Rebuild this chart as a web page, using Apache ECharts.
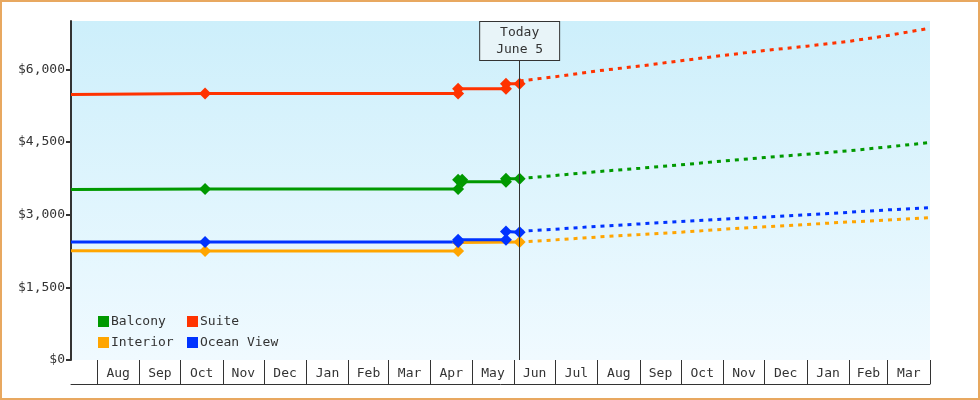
<!DOCTYPE html><html><head><meta charset="utf-8">
<script src="https://cdn.jsdelivr.net/npm/echarts@6/dist/echarts.min.js"></script>
<style>html,body{margin:0;padding:0;background:#fff}#c{width:980px;height:400px;box-sizing:border-box;border:2px solid #e8a860}</style>
</head><body><div id="c"></div><script>
const seriesNames = ['Balcony','Suite','Interior','Ocean View'];
const colors = ['#009900','#ff3300','#ffa500','#0033ff'];
const monthNames = ['Aug','Sep','Oct','Nov','Dec','Jan','Feb','Mar','Apr','May','Jun','Jul','Aug','Sep','Oct','Nov','Dec','Jan','Feb','Mar'];
const axisStart = '2023-07-13', axisEnd = '2025-04-01', today = '2024-06-05';
const yTicks = [0,1500,3000,4500,6000];
// actual price history [date, price]
const balconyHist = [['2023-07-13',3520],['2023-10-19',3531],['2024-04-21',3531],['2024-04-21',3724],['2024-04-24',3724],['2024-04-24',3680],['2024-05-26',3680],['2024-05-26',3745],['2024-06-05',3745]];
const suiteHist = [['2023-07-13',5480],['2023-10-19',5503],['2024-04-21',5503],['2024-04-21',5600],['2024-05-26',5600],['2024-05-26',5704],['2024-06-05',5704]];
const interiorHist = [['2023-07-13',2255],['2023-10-19',2250],['2024-04-21',2250],['2024-04-21',2428],['2024-06-05',2435]];
const oceanHist = [['2023-07-13',2435],['2023-10-19',2435],['2024-04-21',2435],['2024-04-21',2483],['2024-05-26',2483],['2024-05-26',2655],['2024-06-05',2640]];
// forecast [date, price]
const forecastDates = ['2024-06-05','2024-07-01','2024-08-01','2024-09-01','2024-10-01','2024-11-01','2024-12-01','2025-01-01','2025-02-01','2025-03-01','2025-04-01'];
const balconyFc = [3745,3810,3890,3960,4030,4110,4180,4250,4320,4400,4490];
const suiteFc = [5760,5850,5970,6070,6180,6290,6390,6480,6580,6700,6850];
const interiorFc = [2435,2480,2540,2590,2640,2700,2750,2800,2850,2890,2938];
const oceanFc = [2655,2700,2760,2810,2860,2910,2950,3000,3050,3100,3145];

const T = s => Date.parse(s+'T00:00:00Z');
const hist = [balconyHist,suiteHist,interiorHist,oceanHist];
const fcs = [balconyFc,suiteFc,interiorFc,oceanFc];
const monthStarts=[], monthMids=[];
for(let i=0;i<=monthNames.length;i++){
  const y=2023+Math.floor((7+i)/12), m=(7+i)%12;
  monthStarts.push(Date.UTC(y,m,1));
  if(i<monthNames.length) monthMids.push((Date.UTC(y,m,1)+Date.UTC(y,m+1,1))/2);
}
const labelOf = v => monthNames[monthMids.indexOf(v)] || '';
const font = 'DejaVu Sans Mono';
const series=[];
seriesNames.forEach((n,i)=>{
  series.push({name:n,type:'line',color:colors[i],symbol:'diamond',symbolSize:12,z:3,
    lineStyle:{width:3},
    data:hist[i].map((d,j)=>j===0?{value:[T(d[0]),d[1]],symbol:'none'}:[T(d[0]),d[1]])});
  series.push({name:n,type:'line',color:colors[i],showSymbol:false,symbol:'none',
    lineStyle:{width:3,type:[4,5]},
    data:forecastDates.map((d,j)=>[T(d),fcs[i][j]])});
});
series.push({type:'line',data:[],markLine:{silent:true,symbol:'none',
  lineStyle:{color:'#333',width:1,type:'solid'},
  label:{show:true,position:'end',formatter:'Today\nJune 5',fontFamily:font,fontSize:13,color:'#333',
    backgroundColor:'#e8f4f8',borderColor:'#333',borderWidth:1,padding:[2,16,2,16],lineHeight:17,distance:0},
  data:[[{coord:[T(today),0]},{coord:[T(today),6195]}]]}});
const chart=echarts.init(document.getElementById('c'));
chart.setOption({
  animation:false,
  textStyle:{fontFamily:font},
  grid:{left:69,right:48,top:19,bottom:38,show:true,borderWidth:0,
    backgroundColor:{type:'linear',x:0,y:0,x2:0,y2:1,colorStops:[{offset:0,color:'#cdeffb'},{offset:1,color:'#f0faff'}]}},
  legend:[
    {data:['Balcony','Interior'],orient:'vertical',left:91,top:308,itemWidth:11,itemHeight:11,itemGap:8,icon:'rect',textStyle:{fontFamily:font,fontSize:13,color:'#333',padding:[0,0,0,-3]}},
    {data:['Suite','Ocean View'],orient:'vertical',left:180,top:308,itemWidth:11,itemHeight:11,itemGap:8,icon:'rect',textStyle:{fontFamily:font,fontSize:13,color:'#333',padding:[0,0,0,-3]}}
  ],
  xAxis:[{type:'value',min:T(axisStart),max:T(axisEnd),splitLine:{show:false},
    axisLine:{show:false},
    axisTick:{show:true,customValues:monthStarts,length:24,lineStyle:{color:'#333'}},
    axisLabel:{customValues:monthMids,formatter:labelOf,fontFamily:font,fontSize:13,color:'#333',margin:7}},
   {type:'value',position:'bottom',offset:24,min:T(axisStart),max:T(axisEnd),
    axisLine:{show:true,lineStyle:{color:'#333'}},axisTick:{show:false},axisLabel:{show:false},splitLine:{show:false}}],
  yAxis:{type:'value',min:0,max:7000,interval:1500,splitLine:{show:false},
    axisLine:{show:true,lineStyle:{color:'#333',width:2}},
    axisTick:{show:true,customValues:yTicks,length:5,lineStyle:{color:'#333',width:2}},
    axisLabel:{customValues:yTicks,fontFamily:font,fontSize:13,color:'#333',margin:6,
      formatter:v=>'$'+v.toLocaleString('en-US')}},
  series
});
</script></body></html>
